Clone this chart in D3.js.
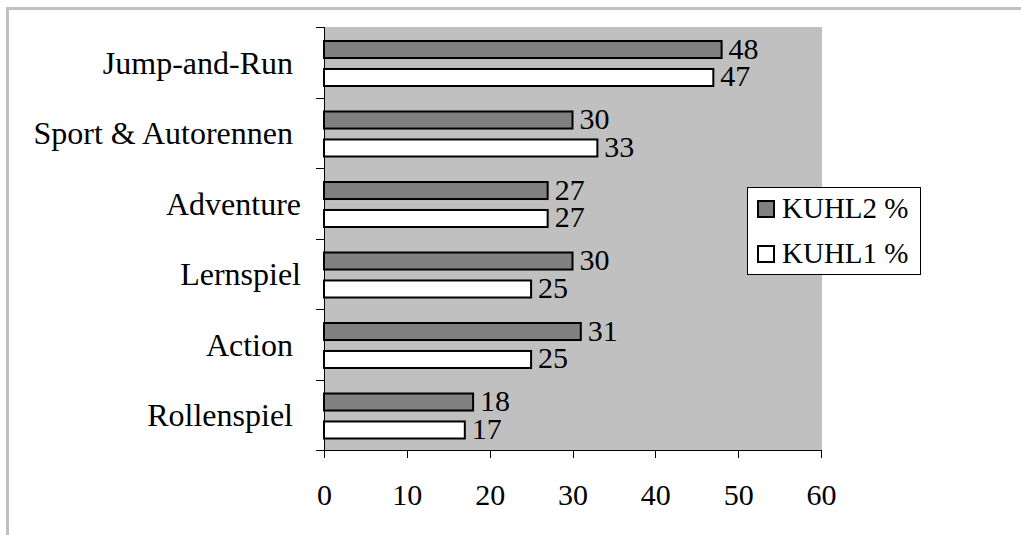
<!DOCTYPE html>
<html>
<head>
<meta charset="utf-8">
<script src="https://cdn.jsdelivr.net/npm/d3@7"></script>
<style>
  body { margin: 0; background: #fff; }
  svg { display: block; }
  text { font-family: "Liberation Serif", "Times New Roman", serif; fill: #000; white-space: pre; }
</style>
</head>
<body>
<div id="chart"></div>
<script>
// categories from top to bottom, with Excel-style trailing spaces
const categories = ['Jump-and-Run ', 'Sport & Autorennen ', 'Adventure', 'Lernspiel', 'Action ', 'Rollenspiel '];
const series = ['KUHL2 %', 'KUHL1 %'];
const kuhl2 = [48, 30, 27, 30, 31, 18];
const kuhl1 = [47, 33, 27, 25, 25, 17];
const xTicks = [0, 10, 20, 30, 40, 50, 60];

const fills = {'KUHL2 %': '#808080', 'KUHL1 %': '#ffffff'};

const data = categories.map((c, i) => ({cat: c, values: [
  {key: series[0], value: kuhl2[i]},
  {key: series[1], value: kuhl1[i]}
]}));

const width = 1021, height = 535;
const plot = {left: 324, right: 821, top: 27, bottom: 450};

const svg = d3.select('#chart').append('svg')
  .attr('width', width)
  .attr('height', height);

// outer frame (only top and left edges visible)
svg.append('rect')
  .attr('x', 7.5).attr('y', 8.5)
  .attr('width', 1100).attr('height', 600)
  .attr('fill', 'none')
  .attr('stroke', '#c0c0c0')
  .attr('stroke-width', 3);

//// Scales
const x = d3.scaleLinear().domain([0, 60]).range([plot.left, plot.right]);
const y = d3.scaleBand().domain(categories).range([plot.top, plot.bottom]);
const yInner = d3.scaleBand().domain(series)
  .range([13, 60])
  .paddingInner(0.32);

// plot background
svg.append('rect')
  .attr('x', x(0)).attr('y', plot.top)
  .attr('width', x(60) - x(0) + 1)
  .attr('height', plot.bottom - plot.top)
  .attr('fill', '#c0c0c0');

//// Bars
const groups = svg.selectAll('g.cat')
  .data(data)
  .join('g')
  .attr('class', 'cat')
  .attr('transform', d => `translate(0,${y(d.cat)})`);

groups.selectAll('rect')
  .data(d => d.values)
  .join('rect')
  .attr('x', x(0))
  .attr('y', d => yInner(d.key) + 1)
  .attr('width', d => x(d.value) - x(0))
  .attr('height', yInner.bandwidth() - 2)
  .attr('fill', d => fills[d.key])
  .attr('stroke', '#000')
  .attr('stroke-width', 2);

groups.selectAll('text.val')
  .data(d => d.values)
  .join('text')
  .attr('class', 'val')
  .attr('x', d => x(d.value) + 7)
  .attr('y', d => yInner(d.key) + yInner.bandwidth() / 2 + 9)
  .style('font-size', '30px')
  .text(d => d.value);

//// Axes
const yAxis = svg.append('g')
  .attr('transform', `translate(${plot.left},0)`);
yAxis.append('line')
  .attr('x1', 0.5).attr('x2', 0.5)
  .attr('y1', plot.top).attr('y2', plot.bottom)
  .attr('stroke', '#000');
yAxis.selectAll('line.tick')
  .data(categories.map(c => y(c)).concat([plot.bottom]))
  .join('line')
  .attr('class', 'tick')
  .attr('x1', -8).attr('x2', 0.5)
  .attr('y1', d => Math.round(d) + 0.5)
  .attr('y2', d => Math.round(d) + 0.5)
  .attr('stroke', '#000');
yAxis.selectAll('text')
  .data(categories)
  .join('text')
  .attr('x', -23)
  .attr('y', d => y(d) + y.bandwidth() / 2 + 11.5)
  .attr('text-anchor', 'end')
  .style('font-size', '32px')
  .text(d => d);

const xAxis = svg.append('g')
  .attr('transform', `translate(0,${plot.bottom})`);
xAxis.append('line')
  .attr('x1', x(0)).attr('x2', x(60) + 0.5)
  .attr('y1', 0.5).attr('y2', 0.5)
  .attr('stroke', '#000');
xAxis.selectAll('line.tick')
  .data(xTicks)
  .join('line')
  .attr('class', 'tick')
  .attr('x1', d => Math.round(x(d)) + 0.5)
  .attr('x2', d => Math.round(x(d)) + 0.5)
  .attr('y1', 0).attr('y2', 8)
  .attr('stroke', '#000');
xAxis.selectAll('text')
  .data(xTicks)
  .join('text')
  .attr('x', d => x(d) + 0.5)
  .attr('y', 55)
  .attr('text-anchor', 'middle')
  .style('font-size', '30px')
  .text(d => d);

//// Legend
const legend = svg.append('g')
  .attr('transform', 'translate(747,187)');
legend.append('rect')
  .attr('x', 0.5).attr('y', 0.5)
  .attr('width', 173).attr('height', 87)
  .attr('fill', '#fff')
  .attr('stroke', '#000');

const entries = legend.selectAll('g.entry')
  .data(series)
  .join('g')
  .attr('class', 'entry')
  .attr('transform', (d, i) => `translate(0,${13 + i * 45})`);

entries.append('rect')
  .attr('x', 11).attr('y', 1)
  .attr('width', 16).attr('height', 16)
  .attr('fill', d => fills[d])
  .attr('stroke', '#000')
  .attr('stroke-width', 2);

entries.append('text')
  .attr('x', 35)
  .attr('y', 18)
  .style('font-size', '29px')
  .text(d => d);
</script>
</body>
</html>
